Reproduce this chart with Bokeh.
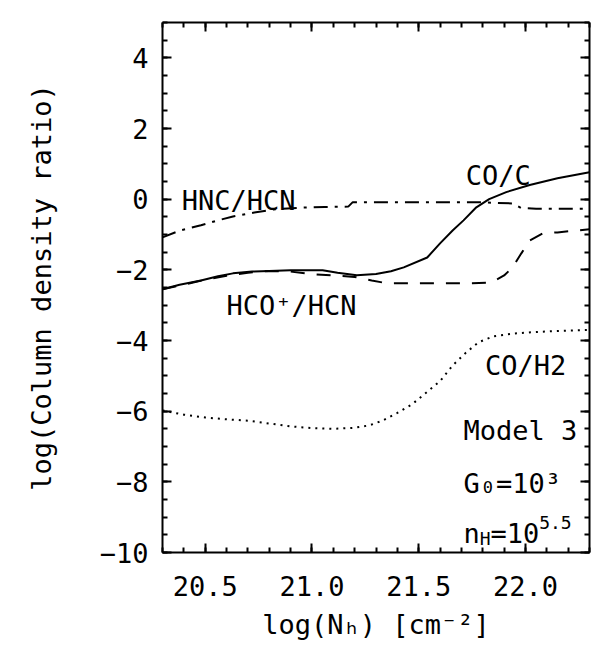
from bokeh.plotting import figure
from bokeh.models import LinearAxis, FixedTicker, CustomJSTickFormatter, Range1d
from bokeh.core.properties import value
from bokeh.embed import file_html
from bokeh.resources import INLINE
import numpy as np

# ---- data ----
co_c_x = [20.30, 20.38, 20.48, 20.56, 20.63, 20.72, 20.80, 20.90, 21.05, 21.12, 21.21, 21.30,
          21.37, 21.43, 21.54, 21.60, 21.66, 21.71, 21.77, 21.83, 21.91, 22.02, 22.15, 22.30]
co_c_y = [-2.55, -2.42, -2.30, -2.18, -2.10, -2.05, -2.03, -2.01, -2.01, -2.08, -2.15, -2.12,
          -2.04, -1.93, -1.65, -1.25, -0.88, -0.60, -0.23, 0.00, 0.20, 0.40, 0.59, 0.76]

hco_hcn_x = [20.30, 20.40, 20.50, 20.60, 20.70, 20.80, 20.90, 21.00, 21.10, 21.20, 21.28, 21.35,
             21.50, 21.65, 21.75, 21.84, 21.90, 21.94, 21.98, 22.02, 22.08, 22.15, 22.30]
hco_hcn_y = [-2.55, -2.42, -2.28, -2.17, -2.08, -2.03, -2.05, -2.12, -2.16, -2.20, -2.30, -2.38,
             -2.38, -2.38, -2.38, -2.36, -2.16, -1.93, -1.54, -1.17, -0.97, -0.94, -0.85]

hnc_hcn_x = [20.30, 20.38, 20.48, 20.56, 20.63, 20.73, 20.82, 20.95, 21.06, 21.17, 21.19, 21.40,
             21.60, 21.80, 21.94, 21.98, 22.05, 22.30]
hnc_hcn_y = [-1.08, -0.89, -0.74, -0.60, -0.49, -0.38, -0.29, -0.24, -0.22, -0.21, -0.09, -0.09,
             -0.09, -0.09, -0.12, -0.25, -0.27, -0.27]

co_h2_x = [20.30, 20.40, 20.50, 20.60, 20.70, 20.80, 20.90, 21.00, 21.10, 21.20, 21.27, 21.33,
           21.40, 21.47, 21.54, 21.60, 21.66, 21.72, 21.78, 21.85, 21.95, 22.05, 22.15, 22.30]
co_h2_y = [-5.98, -6.10, -6.18, -6.23, -6.27, -6.35, -6.43, -6.48, -6.50, -6.47, -6.40, -6.27,
           -6.05, -5.80, -5.45, -5.15, -4.70, -4.35, -4.05, -3.88, -3.80, -3.76, -3.73, -3.70]

x_major_ticks = [20.5, 21.0, 21.5, 22.0]
y_major_ticks = [-10, -8, -6, -4, -2, 0, 2, 4]

# label anchors (data coords, left / baseline)
curve_labels = ["HNC/HCN", "CO/C", "HCO\u207a/HCN", "CO/H2", "Model 3", "G\u2080=10\u00b3"]
curve_label_x = [20.39, 21.72, 20.60, 21.81, 21.71, 21.71]
curve_label_y = [-0.04, 0.67, -3.01, -4.71, -6.55, -8.05]
nh_label_x = 21.71
nh_label_y = -9.46

FONT = "DejaVu Sans Mono"
FS = 27
SMALL = 18

p = figure(width=593, height=648,
           x_range=Range1d(20.3, 22.3), y_range=Range1d(-10, 5),
           output_backend="svg", toolbar_location=None,
           min_border_left=162, min_border_right=4, min_border_top=22, min_border_bottom=96,
           x_axis_label="log(N\u2095) [cm\u207b\u00b2]",
           y_axis_label="log(Column density ratio)")
p.grid.visible = False
p.outline_line_color = None
p.background_fill_color = "white"
p.border_fill_color = "white"

x_minor = [float(v) for v in np.round(np.arange(20.3, 22.31, 0.1), 1)]
y_minor = [float(v) for v in np.arange(-10, 5.01, 0.5)]


def style(ax, labels=True):
    ax.axis_line_width = 2
    ax.axis_line_color = "black"
    ax.major_tick_line_width = 2
    ax.minor_tick_line_width = 2
    ax.major_tick_in = 9
    ax.major_tick_out = 0
    ax.minor_tick_in = 5
    ax.minor_tick_out = 0
    ax.major_label_text_font = FONT
    ax.major_label_text_color = "black"
    ax.axis_label_text_font = FONT
    ax.axis_label_text_font_style = "normal"
    ax.axis_label_text_font_size = f"{FS}px"
    ax.axis_label_text_color = "black"
    if labels:
        ax.major_label_text_font_size = f"{FS}px"
    else:
        ax.major_label_text_font_size = "0px"
        ax.major_label_standoff = 0
        ax.major_label_text_color = None


xt = FixedTicker(ticks=x_major_ticks, minor_ticks=x_minor)
yt = FixedTicker(ticks=y_major_ticks, minor_ticks=y_minor)
xf = CustomJSTickFormatter(code="return tick.toFixed(1);")
yf = CustomJSTickFormatter(code="return tick < 0 ? '\\u2212' + Math.abs(tick) : String(tick);")

xa = p.xaxis[0]
xa.ticker = xt
xa.formatter = xf
style(xa)
xa.major_label_standoff = 23
xa.axis_label_standoff = 10

ya = p.yaxis[0]
ya.ticker = yt
ya.formatter = yf
style(ya)
ya.major_label_standoff = 14
ya.axis_label_standoff = 40

top = LinearAxis(ticker=FixedTicker(ticks=x_major_ticks, minor_ticks=x_minor))
style(top, labels=False)
p.add_layout(top, "above")
right = LinearAxis(ticker=FixedTicker(ticks=y_major_ticks, minor_ticks=y_minor))
style(right, labels=False)
p.add_layout(right, "right")

p.line(co_c_x, co_c_y, line_color="black", line_width=2)
p.line(hco_hcn_x, hco_hcn_y, line_color="black", line_width=2, line_dash="14 12")
p.line(hnc_hcn_x, hnc_hcn_y, line_color="black", line_width=2, line_dash="14 7 3 7")
p.line(co_h2_x, co_h2_y, line_color="black", line_width=2, line_dash="2 5")

p.text(x=curve_label_x, y=curve_label_y, text=curve_labels,
       text_font=value(FONT), text_font_size=value(f"{FS}px"),
       text_baseline="alphabetic", text_align="left", text_color="black")

cw = 0.6 * FS
cws = 0.6 * SMALL
p.text(x=[nh_label_x], y=[nh_label_y], text=["n"], text_font=value(FONT),
       text_font_size=value(f"{FS}px"), text_baseline="alphabetic", text_color="black")
p.text(x=[nh_label_x], y=[nh_label_y], text=["H"], x_offset=cw, y_offset=5, text_font=value(FONT),
       text_font_size=value(f"{SMALL}px"), text_baseline="alphabetic", text_color="black")
p.text(x=[nh_label_x], y=[nh_label_y], text=["=10"], x_offset=cw + cws, text_font=value(FONT),
       text_font_size=value(f"{FS}px"), text_baseline="alphabetic", text_color="black")
p.text(x=[nh_label_x], y=[nh_label_y], text=["5.5"], x_offset=cw + cws + 3 * cw, y_offset=-11,
       text_font=value(FONT), text_font_size=value(f"{SMALL}px"), text_baseline="alphabetic",
       text_color="black")

open("out.html", "w").write(file_html(p, INLINE))
